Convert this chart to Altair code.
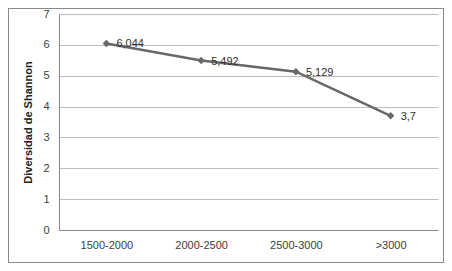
import altair as alt
import pandas as pd

categories = ["1500-2000", "2000-2500", "2500-3000", ">3000"]
values = [6.044, 5.492, 5.129, 3.7]
labels = ["6,044", "5,492", "5,129", "3,7"]

df = pd.DataFrame({"cat": categories, "val": values, "lab": labels})

FONT = "Liberation Sans"
W, H = 379, 216

x = alt.X("cat:N", sort=categories, title=None,
          scale=alt.Scale(type="point", padding=0.5),
          axis=alt.Axis(labelAngle=0, ticks=False, labelPadding=9, labelFontSize=11,
                        labelColor="#404040", domainColor="#888888", labelFont=FONT))
y = alt.Y("val:Q", title="Diversidad de Shannon",
          scale=alt.Scale(domain=[0, 7], nice=False),
          axis=alt.Axis(values=[0, 1, 2, 3, 4, 5, 6, 7], ticks=False, labelPadding=10,
                        labelFontSize=11, labelColor="#404040", domainColor="#888888",
                        gridColor="#bdbdbd", titleFont=FONT, titleFontSize=11,
                        titleFontWeight="bold", titleColor="#222222", titlePadding=9,
                        labelFont=FONT))

line = alt.Chart(df).mark_line(color="#686868", strokeWidth=2.5).encode(x=x, y=y)
pts = alt.Chart(df).mark_point(shape="diamond", filled=True, color="#686868",
                               size=55, opacity=1).encode(x=x, y=y)
txt = alt.Chart(df).mark_text(align="left", baseline="middle", dx=10, dy=1,
                              font=FONT, fontSize=11, color="#303030").encode(
    x=x, y=y, text="lab:N")

border = alt.Chart(df).mark_rule(color="#888888", strokeWidth=1).encode(
    x=alt.value(-50.5), x2=alt.value(W + 5.5), y=alt.value(-5.5))
b2 = alt.Chart(df).mark_rule(color="#888888", strokeWidth=1).encode(
    x=alt.value(-50.5), x2=alt.value(W + 5.5), y=alt.value(H + 32.5))
b3 = alt.Chart(df).mark_rule(color="#888888", strokeWidth=1).encode(
    x=alt.value(-50.5), y=alt.value(-5.5), y2=alt.value(H + 32.5))
b4 = alt.Chart(df).mark_rule(color="#888888", strokeWidth=1).encode(
    x=alt.value(W + 5.5), y=alt.value(-5.5), y2=alt.value(H + 32.5))

chart = alt.layer(line, pts, txt, border, b2, b3, b4).properties(
    width=W, height=H,
    autosize=alt.AutoSizeParams(type="none"),
    padding={"left": 51, "top": 6, "right": 6, "bottom": 33},
    background="white",
).configure_view(stroke=None)

chart.save("out.html", embed_options={"renderer": "svg", "actions": False})
